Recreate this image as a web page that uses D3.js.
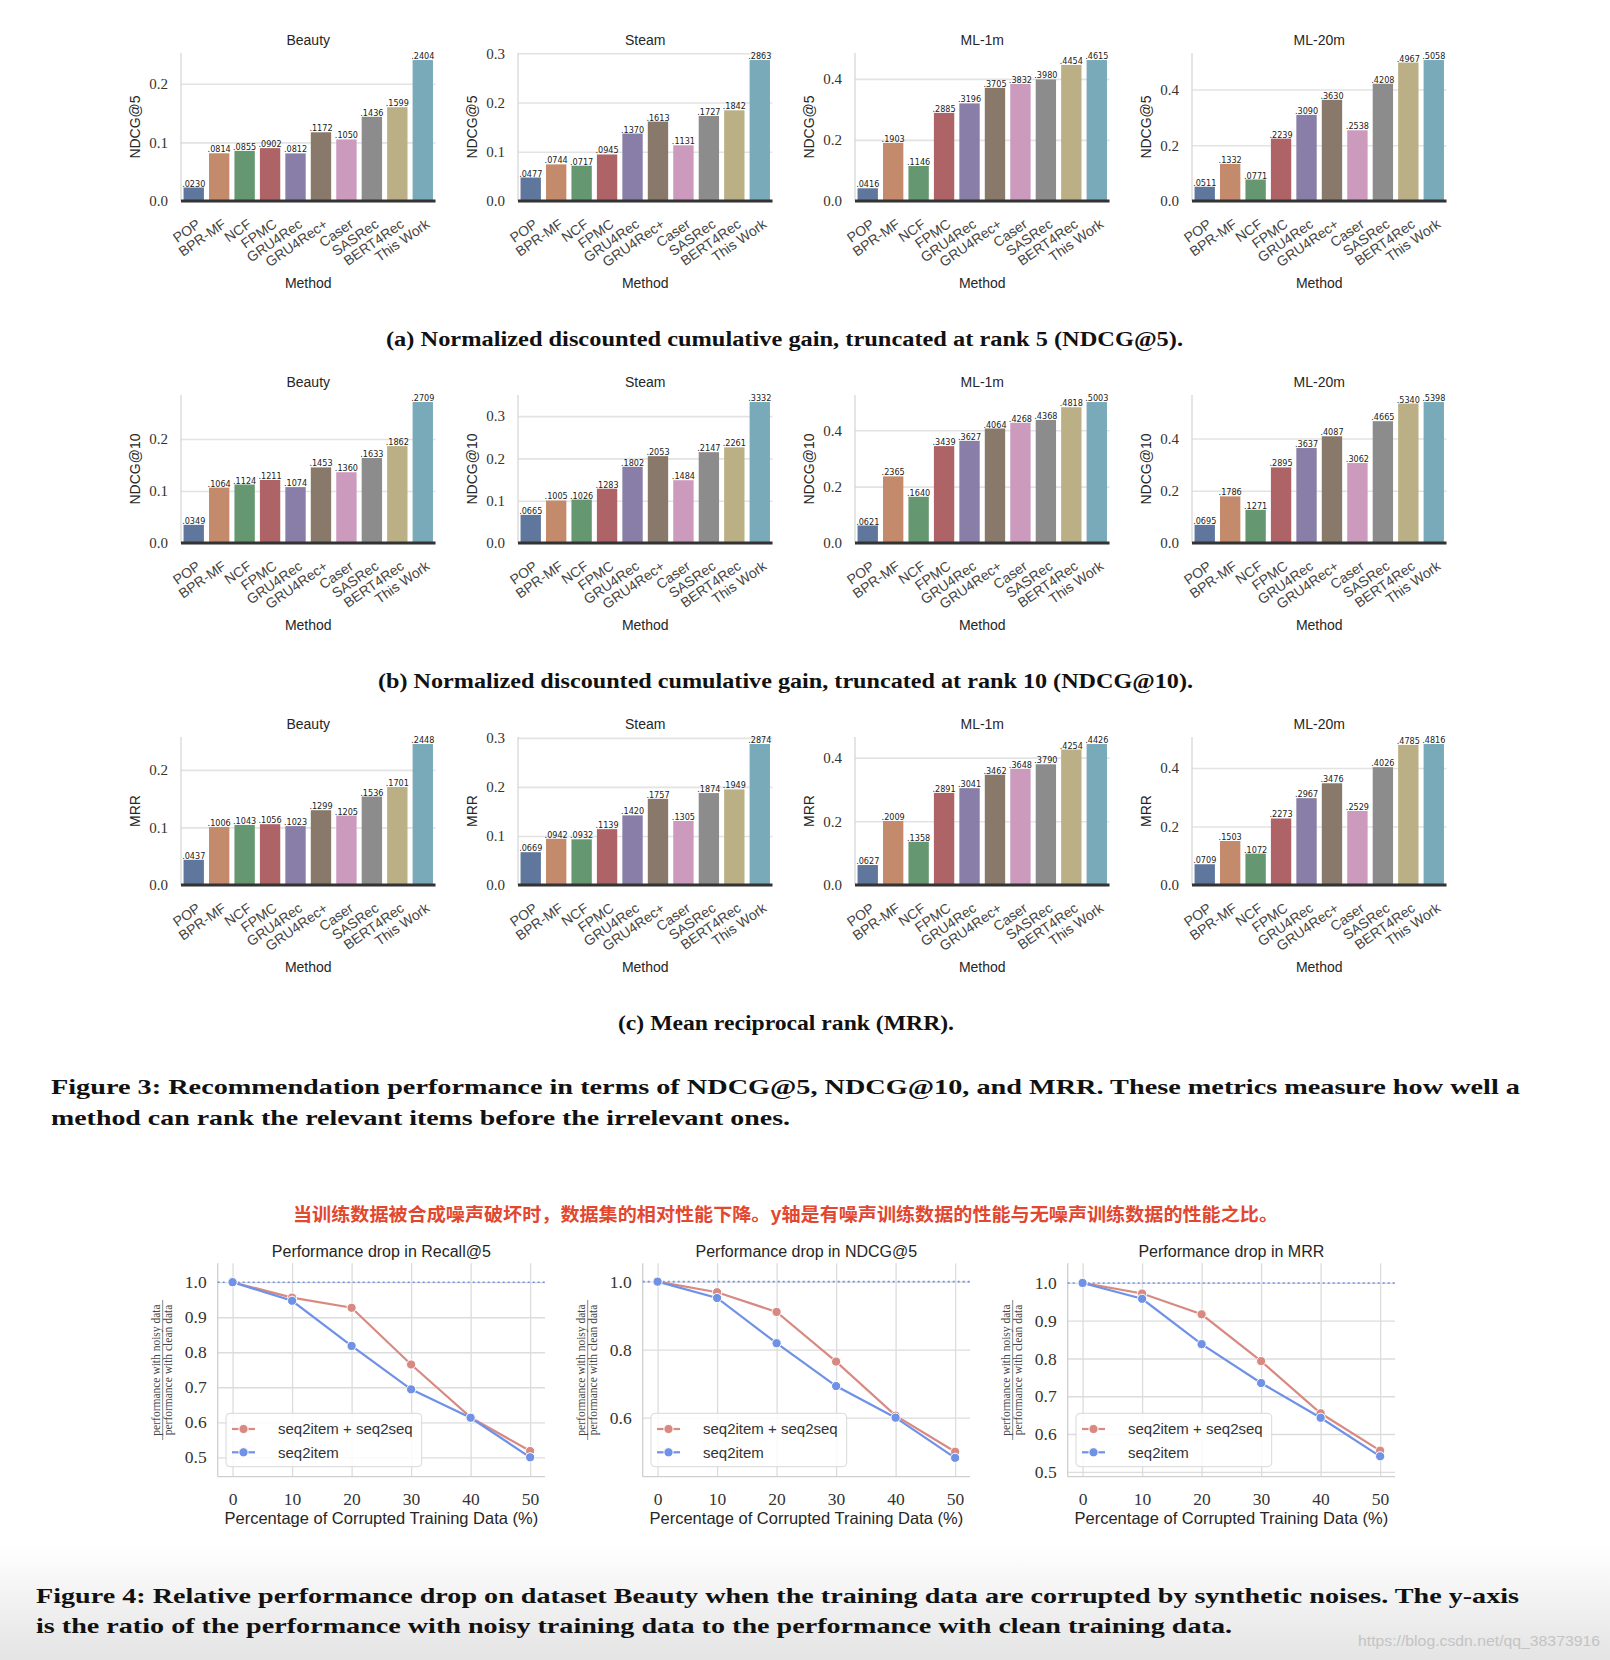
<!DOCTYPE html>
<html><head><meta charset="utf-8">
<script src="https://cdn.jsdelivr.net/npm/d3@7"></script>
<style>body{margin:0;background:#fff}svg{display:block}</style>
</head><body>
<script>
// ---------- DATA ----------
const methods = ["POP","BPR-MF","NCF","FPMC","GRU4Rec","GRU4Rec+","Caser","SASRec","BERT4Rec","This Work"];
const datasets = ["Beauty","Steam","ML-1m","ML-20m"];
const metricLabels = ["NDCG@5","NDCG@10","MRR"];
const ndcg5 = [
  [.0230,.0814,.0855,.0902,.0812,.1172,.1050,.1436,.1599,.2404],
  [.0477,.0744,.0717,.0945,.1370,.1613,.1131,.1727,.1842,.2863],
  [.0416,.1903,.1146,.2885,.3196,.3705,.3832,.3980,.4454,.4615],
  [.0511,.1332,.0771,.2239,.3090,.3630,.2538,.4208,.4967,.5058]
];
const ndcg10 = [
  [.0349,.1064,.1124,.1211,.1074,.1453,.1360,.1633,.1862,.2709],
  [.0665,.1005,.1026,.1283,.1802,.2053,.1484,.2147,.2261,.3332],
  [.0621,.2365,.1640,.3439,.3627,.4064,.4268,.4368,.4818,.5003],
  [.0695,.1786,.1271,.2895,.3637,.4087,.3062,.4665,.5340,.5398]
];
const mrr = [
  [.0437,.1006,.1043,.1056,.1023,.1299,.1205,.1536,.1701,.2448],
  [.0669,.0942,.0932,.1139,.1420,.1757,.1305,.1874,.1949,.2874],
  [.0627,.2009,.1358,.2891,.3041,.3462,.3648,.3790,.4254,.4426],
  [.0709,.1503,.1072,.2273,.2967,.3476,.2529,.4026,.4785,.4816]
];
const tickSteps = [0.1, 0.1, 0.2, 0.2];
const palette = ["#4C72B0","#DD8452","#55A868","#C44E52","#8172B3","#937860","#DA8BC3","#8C8C8C","#CCB974","#64B5CD"];
const subCaptions = [
  "(a) Normalized discounted cumulative gain, truncated at rank 5 (NDCG@5).",
  "(b) Normalized discounted cumulative gain, truncated at rank 10 (NDCG@10).",
  "(c) Mean reciprocal rank (MRR)."
];

const noiseLevels = [0,10,20,30,40,50];
const lineTitles = ["Performance drop in Recall@5","Performance drop in NDCG@5","Performance drop in MRR"];
const seriesNames = ["seq2item + seq2seq","seq2item"];
const recallBoth = [1.0,0.956,0.927,0.765,0.614,0.518];
const recallItem = [1.0,0.947,0.818,0.694,0.613,0.500];
const ndcgBoth   = [1.0,0.969,0.911,0.765,0.606,0.500];
const ndcgItem   = [1.0,0.952,0.819,0.693,0.600,0.482];
const mrrBoth    = [1.0,0.972,0.917,0.793,0.655,0.556];
const mrrItem    = [1.0,0.958,0.838,0.735,0.643,0.541];
const lineYTicks = [[0.5,0.6,0.7,0.8,0.9,1.0],[0.6,0.8,1.0],[0.5,0.6,0.7,0.8,0.9,1.0]];
const lineYDomains = [[0.4446,1.054],[0.4265,1.054],[0.487,1.052]];
const lineColors = ["#d88a82","#6f91e6"];

const fig3Caption = ["Figure 3: Recommendation performance in terms of NDCG@5, NDCG@10, and MRR. These metrics measure how well a",
                     "method can rank the relevant items before the irrelevant ones."];
const fig4Caption = ["Figure 4: Relative performance drop on dataset Beauty when the training data are corrupted by synthetic noises. The y-axis",
                     "is the ratio of the performance with noisy training data to the performance with clean training data."];
const cnNote = "当训练数据被合成噪声破坏时，数据集的相对性能下降。y轴是有噪声训练数据的性能与无噪声训练数据的性能之比。";
const watermark = "https://blog.csdn.net/qq_38373916";

// ---------- DRAW ----------
const W = 1610, H = 1660;
const SERIF = "'Liberation Serif','DejaVu Serif',serif";
const SANS = "'Liberation Sans','DejaVu Sans',sans-serif";
const svg = d3.select("body").append("svg").attr("width", W).attr("height", H);

const defs = svg.append("defs");
const grad = defs.append("linearGradient").attr("id","bg").attr("x1",0).attr("x2",0).attr("y1",0).attr("y2",1);
grad.append("stop").attr("offset","0%").attr("stop-color","#ffffff");
grad.append("stop").attr("offset","100%").attr("stop-color","#e4e4e4");
svg.append("rect").attr("width",W).attr("height",H).attr("fill","#fff");
svg.append("rect").attr("x",0).attr("y",1545).attr("width",W).attr("height",H-1545).attr("fill","url(#bg)");

function desat(c, p){ const h = d3.hsl(c); h.s *= p; return h.formatHex(); }
const barColors = palette.map(c => desat(c, 0.62));
const fmtVal = v => d3.format(".4f")(v).replace(/^0\./, ".");

// bar panels
const rowsData = [ndcg5, ndcg10, mrr];
const panelLeft = [181, 518, 855, 1192], panelW = 254.5, rowBase = [201, 543, 885], panelH = 148;

rowsData.forEach((rows, r) => {
  rows.forEach((vals, c) => {
    const g = svg.append("g").attr("transform", `translate(${panelLeft[c]},${rowBase[r]-panelH})`);
    const x = d3.scaleBand().domain(methods).range([0, panelW]).paddingInner(0.2).paddingOuter(0.1);
    const ymax = d3.max(vals) * 1.05;
    const y = d3.scaleLinear().domain([0, ymax]).range([panelH, 0]);
    const ticks = d3.range(0, ymax + 1e-9, tickSteps[c]);

    const ya = g.append("g").call(d3.axisLeft(y).tickValues(ticks).tickSize(-panelW).tickPadding(13).tickFormat(d3.format(".1f")));
    ya.select(".domain").remove();
    ya.selectAll(".tick line").attr("stroke", "#e3e3e3").attr("stroke-width", 1.6);
    ya.selectAll(".tick text").attr("font-family", SERIF).attr("font-size", 15).attr("fill", "#333");
    g.append("line").attr("x1", 0).attr("x2", 0).attr("y1", 0).attr("y2", panelH).attr("stroke", "#d4d4d4").attr("stroke-width", 1.2);

    g.selectAll("rect.bar").data(vals).join("rect").attr("class","bar")
      .attr("x", (d,i) => x(methods[i])).attr("width", x.bandwidth())
      .attr("y", d => y(d)).attr("height", d => panelH - y(d))
      .attr("fill", (d,i) => barColors[i]);

    g.selectAll("text.val").data(vals).join("text").attr("class","val")
      .attr("x", (d,i) => x(methods[i]) + x.bandwidth()/2).attr("y", d => y(d) - 1)
      .attr("text-anchor","middle").attr("font-family","'DejaVu Sans Condensed','DejaVu Sans',sans-serif")
      .attr("font-stretch","condensed").attr("font-size", 9).attr("fill","#222").text(fmtVal);

    g.append("line").attr("x1", 0).attr("x2", panelW).attr("y1", panelH).attr("y2", panelH).attr("stroke", "#333").attr("stroke-width", 3);

    const xa = g.append("g").attr("transform", `translate(0,${panelH})`).call(d3.axisBottom(x).tickSize(0).tickPadding(0));
    xa.select(".domain").remove();
    xa.selectAll(".tick text").attr("font-family", SANS).attr("font-size", 14).attr("fill", "#444")
      .attr("text-anchor","end").attr("y", 0).attr("dy", "0.72em")
      .attr("transform", "translate(2,17) rotate(-35)");

    g.append("text").attr("x", panelW/2).attr("y", -8).attr("text-anchor","middle")
      .attr("font-family", SANS).attr("font-size", 14).attr("fill","#262626").text(datasets[c]);
    g.append("text").attr("x", panelW/2).attr("y", panelH + 87).attr("text-anchor","middle")
      .attr("font-family", SANS).attr("font-size", 14).attr("fill","#262626").text("Method");
    g.append("text").attr("transform", `translate(-46,${panelH/2}) rotate(-90)`).attr("text-anchor","middle")
      .attr("dy","0.35em").attr("font-family", SANS).attr("font-size", 14).attr("fill","#262626").text(metricLabels[r]);
  });
});

// sub captions
const subCapX = [[386, 797],[378, 815],[618, 336]];
subCaptions.forEach((t, i) => {
  svg.append("text").attr("x", subCapX[i][0]).attr("y", 346 + 342*i)
    .attr("textLength", subCapX[i][1]).attr("lengthAdjust","spacingAndGlyphs")
    .attr("font-family", SERIF).attr("font-weight","bold").attr("font-size", 20).attr("fill","#111").text(t);
});

// figure 3 caption
[[51,1094,1469],[51,1125,739]].forEach((p, i) => {
  svg.append("text").attr("x", p[0]).attr("y", p[1]).attr("textLength", p[2]).attr("lengthAdjust","spacingAndGlyphs")
    .attr("font-family", SERIF).attr("font-weight","bold").attr("font-size", 22).attr("fill","#111").text(fig3Caption[i]);
});

// chinese note
svg.append("text").attr("x", 293).attr("y", 1221).attr("textLength", 985).attr("lengthAdjust","spacingAndGlyphs")
  .attr("font-family","'Noto Sans CJK SC',sans-serif").attr("font-weight","bold").attr("font-size", 18.5)
  .attr("fill","#e2472f").text(cnNote);

// line charts
const lineLeft = [217.7, 642.7, 1067.7], lineW = 327.3, lineTop = 1263.3, lineH = 213.4;
const lineSeries = [[recallBoth, recallItem],[ndcgBoth, ndcgItem],[mrrBoth, mrrItem]];

lineSeries.forEach((ser, p) => {
  const g = svg.append("g").attr("transform", `translate(${lineLeft[p]},${lineTop})`);
  const x = d3.scaleLinear().domain([-2.5, 52.5]).range([0, lineW]);
  const y = d3.scaleLinear().domain(lineYDomains[p]).range([lineH, 0]);

  const ya = g.append("g").call(d3.axisLeft(y).tickValues(lineYTicks[p]).tickSize(-lineW).tickPadding(11).tickFormat(d3.format(".1f")));
  ya.select(".domain").remove();
  ya.selectAll(".tick line").attr("stroke","#dcdcdc").attr("stroke-width",1.3);
  ya.selectAll(".tick text").attr("font-family", SERIF).attr("font-size", 17.5).attr("fill","#333");

  const xa = g.append("g").attr("transform", `translate(0,${lineH})`)
    .call(d3.axisBottom(x).tickValues(noiseLevels).tickSize(-lineH).tickPadding(16).tickFormat(d3.format("d")));
  xa.select(".domain").remove();
  xa.selectAll(".tick line").attr("stroke","#dcdcdc").attr("stroke-width",1.3);
  xa.selectAll(".tick text").attr("font-family", SERIF).attr("font-size", 17.5).attr("fill","#333");

  g.append("line").attr("x1",0).attr("x2",0).attr("y1",0).attr("y2",lineH).attr("stroke","#cfcfcf").attr("stroke-width",1.3);
  g.append("line").attr("x1",0).attr("x2",lineW).attr("y1",lineH).attr("y2",lineH).attr("stroke","#cfcfcf").attr("stroke-width",1.3);

  // reference line at 1.0
  g.append("line").attr("x1",0).attr("x2",lineW).attr("y1",y(1)).attr("y2",y(1))
    .attr("stroke","#6f8fe0").attr("stroke-width",1.6).attr("stroke-dasharray","2,3");

  const line = d3.line().x((d,i) => x(noiseLevels[i])).y(d => y(d));
  ser.forEach((vals, s) => {
    g.append("path").datum(vals).attr("d", line).attr("fill","none").attr("stroke", lineColors[s]).attr("stroke-width", 2.2);
    g.selectAll(`circle.s${s}`).data(vals).join("circle").attr("class",`s${s}`)
      .attr("cx",(d,i) => x(noiseLevels[i])).attr("cy", d => y(d)).attr("r", 4.6)
      .attr("fill", lineColors[s]).attr("stroke","#fff").attr("stroke-width",1);
  });

  // legend
  const lg = g.append("g").attr("transform", `translate(8.3,${lineH - 63.4})`);
  lg.append("rect").attr("width",195.7).attr("height",53.4).attr("rx",4)
    .attr("fill","#fff").attr("fill-opacity",0.85).attr("stroke","#d8d8d8").attr("stroke-width",1);
  seriesNames.forEach((nm, s) => {
    const yy = 15.7 + 23.3*s;
    lg.append("line").attr("x1",6).attr("x2",29).attr("y1",yy).attr("y2",yy).attr("stroke",lineColors[s]).attr("stroke-width",2.2);
    lg.append("circle").attr("cx",17.5).attr("cy",yy).attr("r",4.6).attr("fill",lineColors[s]).attr("stroke","#fff").attr("stroke-width",1);
    lg.append("text").attr("x",52).attr("y",yy).attr("dy","0.35em").attr("font-family",SANS).attr("font-size",15)
      .attr("fill","#333").text(nm);
  });

  g.append("text").attr("x", lineW/2).attr("y", -6.5).attr("text-anchor","middle")
    .attr("font-family", SANS).attr("font-size", 16).attr("fill","#262626").text(lineTitles[p]);
  g.append("text").attr("x", lineW/2).attr("y", lineH + 47.5).attr("text-anchor","middle")
    .attr("font-family", SANS).attr("font-size", 16.5).attr("fill","#262626").text("Percentage of Corrupted Training Data (%)");

  // y label as fraction
  const yl = g.append("g").attr("transform", `translate(-55,${lineH/2}) rotate(-90)`);
  yl.append("text").attr("x",0).attr("y",-3).attr("text-anchor","middle").attr("font-family",SERIF)
    .attr("font-size",11.5).attr("fill","#444").text("performance with noisy data");
  yl.append("line").attr("x1",-70).attr("x2",70).attr("y1",0).attr("y2",0).attr("stroke","#555").attr("stroke-width",0.7);
  yl.append("text").attr("x",0).attr("y",9).attr("text-anchor","middle").attr("font-family",SERIF)
    .attr("font-size",11.5).attr("fill","#444").text("performance with clean data");
});

// figure 4 caption
[[36,1603,1483],[36,1633,1196]].forEach((p, i) => {
  svg.append("text").attr("x", p[0]).attr("y", p[1]).attr("textLength", p[2]).attr("lengthAdjust","spacingAndGlyphs")
    .attr("font-family", SERIF).attr("font-weight","bold").attr("font-size", 22).attr("fill","#111").text(fig4Caption[i]);
});

// watermark
svg.append("text").attr("x", 1358).attr("y", 1646).attr("textLength", 242).attr("lengthAdjust","spacingAndGlyphs")
  .attr("font-family", SANS).attr("font-size", 14).attr("fill","#c4c4c4").text(watermark);
</script>
</body></html>
